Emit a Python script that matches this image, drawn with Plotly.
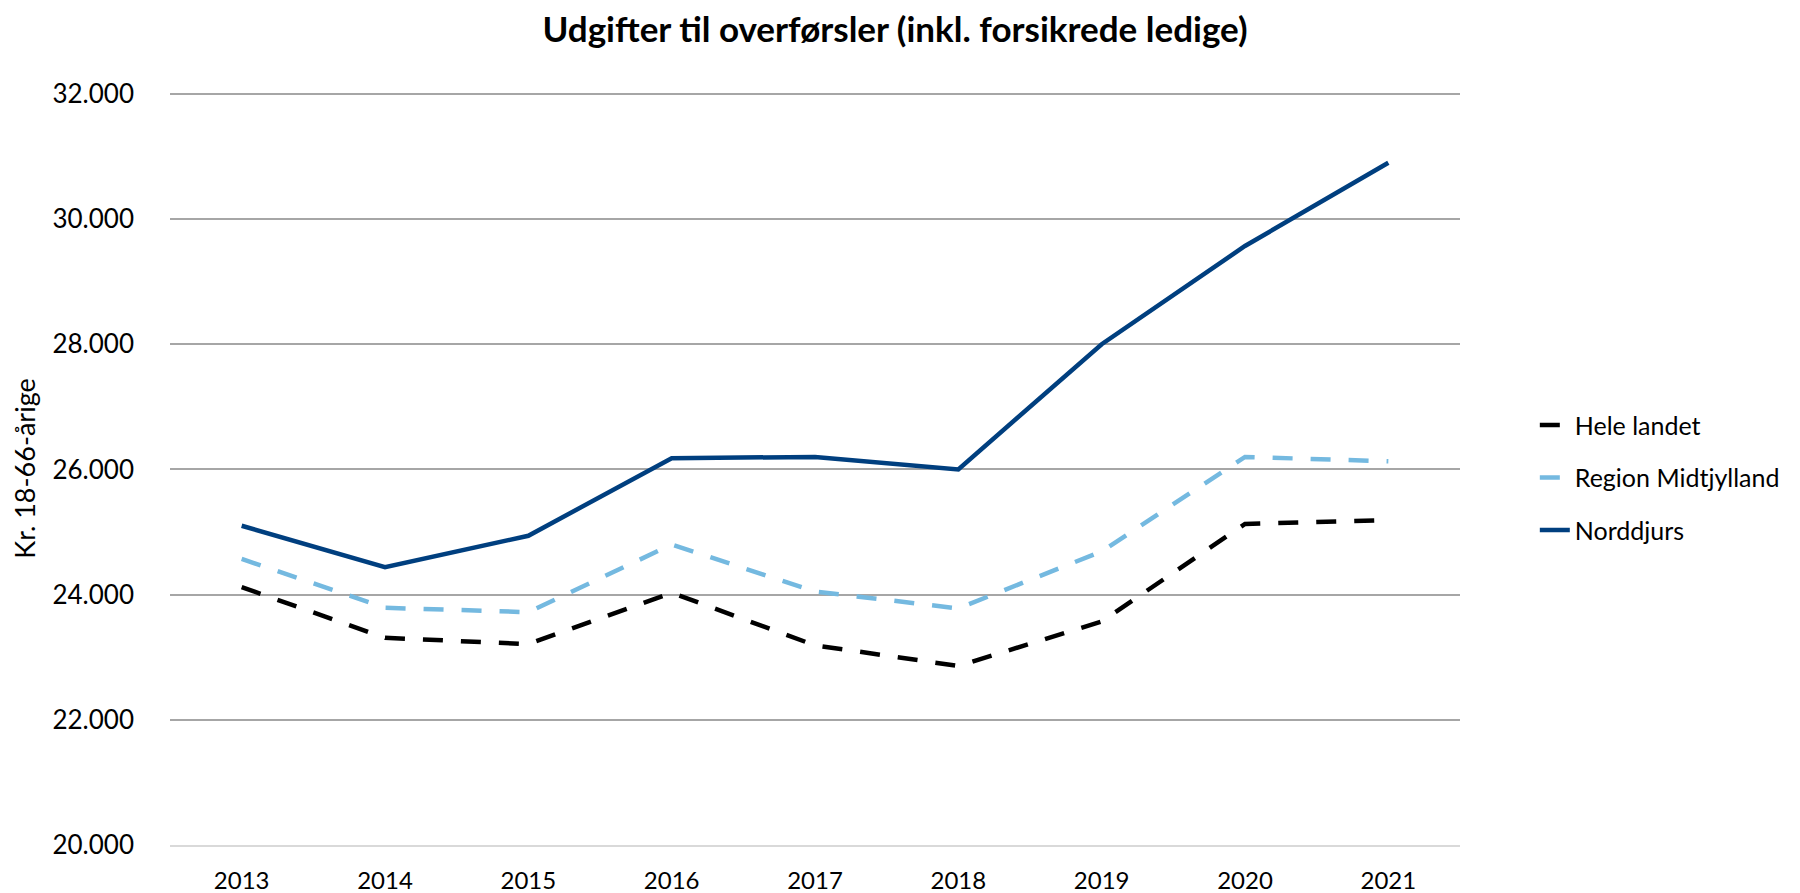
import plotly.graph_objects as go

years = ["2013", "2014", "2015", "2016", "2017", "2018", "2019", "2020", "2021"]
hele_landet = [24120, 23310, 23210, 24030, 23190, 22860, 23570, 25130, 25190]
region_midtjylland = [24570, 23790, 23720, 24800, 24050, 23780, 24690, 26200, 26130]
norddjurs = [25100, 24440, 24940, 26180, 26200, 26000, 28000, 29570, 30900]

FONT = "Lato"
# the page body has an 8px default margin, so the figure is drawn 8px smaller
W, H = 1792, 885

fig = go.Figure()
fig.add_trace(go.Scatter(x=years, y=hele_landet, name="Hele landet", mode="lines",
                         legendgroup="a",
                         line=dict(color="#000000", width=4.5, dash="20px,18px")))
fig.add_trace(go.Scatter(x=years, y=region_midtjylland, name="Region Midtjylland", mode="lines",
                         legendgroup="b",
                         line=dict(color="#74B9E0", width=4.5, dash="20px,18px")))
fig.add_trace(go.Scatter(x=years, y=norddjurs, name="Norddjurs", mode="lines",
                         legendgroup="c",
                         line=dict(color="#003F7F", width=4.5)))

fig.update_layout(
    width=W, height=H,
    margin=dict(l=162, r=340, t=84, b=48, autoexpand=False),
    paper_bgcolor="white", plot_bgcolor="white",
    separators=",.",
    font=dict(family=FONT, size=26, color="#000000"),
    title=dict(text="<b>Udgifter til overførsler (inkl. forsikrede ledige)</b>",
               x=887 / W, xanchor="center", y=1 - 22 / H, yanchor="middle",
               font=dict(family=FONT, size=35, color="#000000")),
    showlegend=True,
    legend=dict(x=1.058, xanchor="left", y=0.588, yanchor="top",
                font=dict(family=FONT, size=25, color="#000000"),
                traceorder="grouped", tracegroupgap=17,
                bgcolor="rgba(0,0,0,0)"),
    xaxis=dict(type="category", range=[-0.5, 8.5], showgrid=False, automargin=False,
               showline=True, linecolor="#D9D9D9", linewidth=2,
               ticks="", ticklabelstandoff=13,
               tickfont=dict(family=FONT, size=24)),
    yaxis=dict(range=[20000, 32030], dtick=2000, tick0=20000, automargin=False,
               tickformat=",.0f", showgrid=True, gridcolor="#A6A6A6", gridwidth=2,
               zeroline=False, showline=False, ticks="", ticklabelstandoff=35,
               tickfont=dict(family=FONT, size=26),
               title=dict(text="Kr. 18-66-årige", standoff=24,
                          font=dict(family=FONT, size=27))),
)

fig.write_html("out.html")
